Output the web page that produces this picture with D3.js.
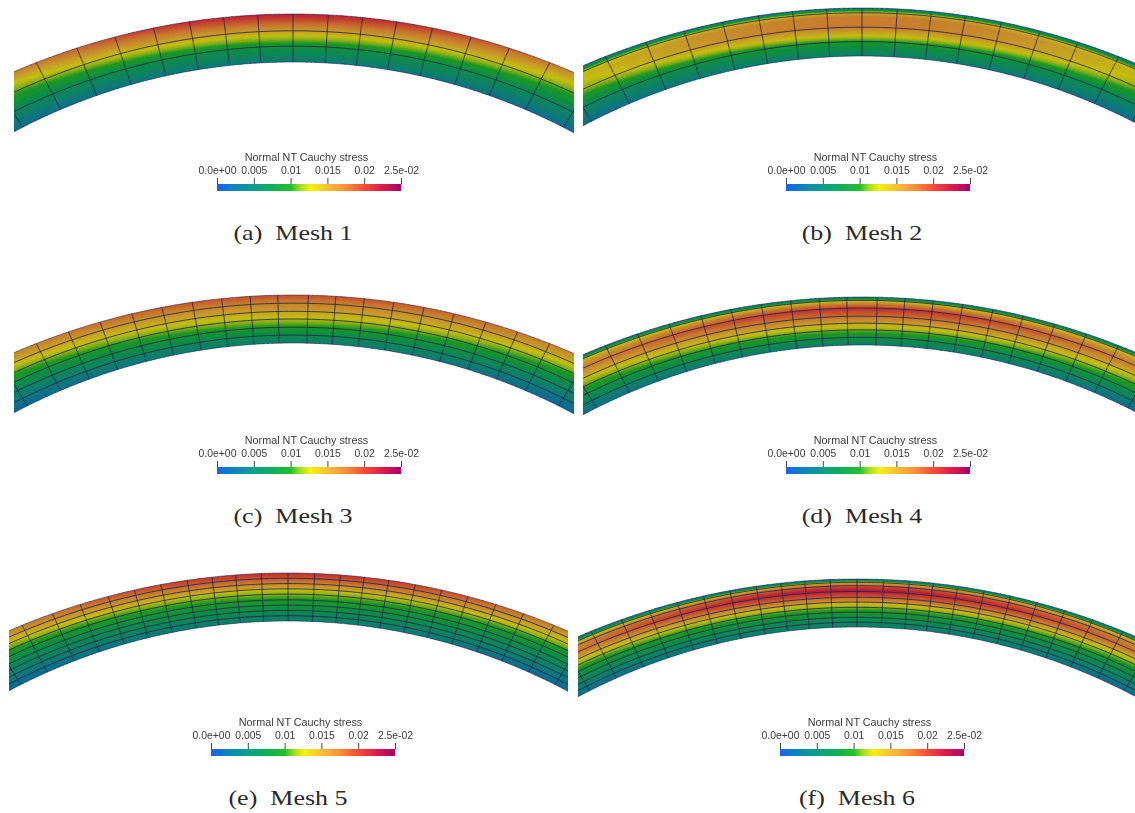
<!DOCTYPE html>
<html>
<head>
<meta charset="utf-8">
<script src="https://cdn.jsdelivr.net/npm/d3@7"></script>
<style>
  html, body { margin: 0; padding: 0; background: #fff; }
  svg { display: block; }
  .bar-title, .bar-axis text { font-family: "Liberation Sans", Arial, sans-serif; fill: #3a3a3a; }
  .bar-title { font-size: 10.8px; }
  .bar-axis text { font-size: 10.4px; }
  .caption { font-family: "Liberation Serif", serif; font-size: 20px; fill: #2a2a2a; }
</style>
</head>
<body>
<svg id="chart"></svg>
<script>
// ---- data ----
const captions = ['(a)  Mesh 1', '(b)  Mesh 2', '(c)  Mesh 3', '(d)  Mesh 4', '(e)  Mesh 5', '(f)  Mesh 6'];
const barTitle = 'Normal NT Cauchy stress';
const tickValues = [0, 0.005, 0.01, 0.015, 0.02, 0.025];
const tickLabels = ['0.0e+00', '0.005', '0.01', '0.015', '0.02', '2.5e-02'];

// colour map of the scalar bar
const colorValues = [0, 0.0025, 0.005, 0.0075, 0.01, 0.0113, 0.0127, 0.015, 0.0175, 0.02, 0.0225, 0.025];
const colorStops = ['#1565e8', '#0c88b8', '#0ca088', '#0eb05a', '#22c02a', '#a8dc1c', '#f8f010', '#fcc036', '#fc8e3a', '#f84a3a', '#dc1c50', '#a8006a'];

// element column lines, degrees from the symmetry axis (one side, mirrored when drawn)
const columnsCoarse = [0, 3.7, 7.3, 10.9, 14.7, 18.8, 22.9, 27.3, 32];
const columnsMedium = [1.6, 4.5, 7.5, 10.6, 13.8, 17, 20.4, 23.8, 27.3, 31.4];
const columnsFine = [0, 2.8, 5.5, 8, 10.6, 13.4, 16.2, 19, 22, 25, 28.3, 31.6];

// layer interfaces through the thickness (0 inner, 1 outer)
const layers1 = [0, 0.33, 0.65, 1];
const layers2 = [0, 0.3, 0.6, 0.9, 1];
const layers3 = [0, 0.165, 0.33, 0.5, 0.66, 0.83, 1];
const layers4 = [0, 0.16, 0.315, 0.455, 0.6, 0.77, 0.93, 1];
const layers5 = [0, 0.11, 0.22, 0.33, 0.44, 0.56, 0.67, 0.78, 0.89, 1];
const layers6 = [0, 0.1, 0.2, 0.31, 0.41, 0.52, 0.62, 0.74, 0.86, 0.93, 1];

// stress through the thickness, at the crown and at the cut edge
const stations1 = [0, 0.3, 0.52, 0.8, 1];
const crown1 = [0.0042, 0.0082, 0.0122, 0.0178, 0.0218];
const edge1 = [0.0026, 0.006, 0.009, 0.0127, 0.0162];

const stations2 = [0, 0.285, 0.39, 0.46, 0.6, 0.82, 0.905, 0.96, 1];
const crown2 = [0.005, 0.0095, 0.012, 0.0138, 0.0168, 0.0168, 0.0135, 0.008, 0.002];
const edge2 = [0.0026, 0.0063, 0.0082, 0.0094, 0.0116, 0.0133, 0.012, 0.008, 0.002];

const stations3 = [0, 0.33, 0.5, 0.655, 0.83, 1];
const crown3 = [0.005, 0.0098, 0.0122, 0.0145, 0.0165, 0.0192];
const edge3 = [0.002, 0.0058, 0.0083, 0.0105, 0.0137, 0.0162];

const stations4 = [0, 0.16, 0.315, 0.455, 0.6, 0.755, 0.86, 0.93, 0.965, 1];
const crown4 = [0.005, 0.0085, 0.0112, 0.0145, 0.0175, 0.0205, 0.0165, 0.0115, 0.008, 0.003];
const edge4 = [0.0026, 0.0055, 0.0083, 0.0105, 0.0132, 0.0165, 0.0152, 0.012, 0.008, 0.002];

const stations5 = [0, 0.3, 0.48, 0.62, 0.72, 0.85, 1];
const crown5 = [0.005, 0.0085, 0.0103, 0.0122, 0.015, 0.018, 0.0208];
const edge5 = [0.002, 0.0056, 0.0078, 0.0095, 0.0113, 0.0137, 0.0164];

const stations6 = [0, 0.36, 0.45, 0.58, 0.72, 0.77, 0.86, 0.93, 0.96, 1];
const crown6 = [0.005, 0.0103, 0.0122, 0.017, 0.0212, 0.0222, 0.0185, 0.0135, 0.008, 0.003];
const edge6 = [0.0026, 0.0083, 0.0098, 0.0125, 0.0168, 0.017, 0.0162, 0.0115, 0.0075, 0.002];

const meshColumns = [columnsCoarse, columnsCoarse, columnsMedium, columnsMedium, columnsFine, columnsFine];
const meshLayers = [layers1, layers2, layers3, layers4, layers5, layers6];
const meshStations = [stations1, stations2, stations3, stations4, stations5, stations6];
const meshCrown = [crown1, crown2, crown3, crown4, crown5, crown6];
const meshEdge = [edge1, edge2, edge3, edge4, edge5, edge6];

// ---- layout ----
const width = 1135, height = 813;
const panelCenter = [293, 862, 293, 862, 288, 857];
const panelTop = [14, 8, 295, 297, 573, 579];
const clipLeft = [14, 583, 14, 583, 9, 578];
const clipRight = [574, 1135, 574, 1135, 568, 1135];
const barLeft = [217, 786, 217, 786, 211, 780];
const barTop = [184, 184, 467, 467, 749, 749];
const captionX = [293, 862, 293, 862, 288, 857];
const captionY = [240, 240, 523, 523, 805, 805];
const barWidth = 184, barHeight = 7;

// distance from the hub of the radial lines to the outer and inner surfaces
const outerRadius = 546, innerRadius = 498;
const outerBulge = d3.scalePow().exponent(2).domain([0, 27]).range([0, 13.5]);
const innerBulge = d3.scalePow().exponent(2).domain([0, 33]).range([0, 13]);

const color = d3.scaleLinear().domain(colorValues).range(colorStops).clamp(true);
// the mesh is lit, so it is a bit darker than the bar
const shade = 0.79;
const meshColor = v => {
  const c = d3.rgb(color(v));
  return d3.rgb(c.r * shade, c.g * shade, c.b * shade).formatHex();
};

const svg = d3.select('#chart').attr('width', width).attr('height', height);
const defs = svg.append('defs');

defs.append('filter').attr('id', 'soft')
  .attr('x', '-2%').attr('y', '-5%').attr('width', '104%').attr('height', '110%')
  .append('feGaussianBlur').attr('stdDeviation', 0.5);

defs.append('filter').attr('id', 'softText')
  .attr('x', '-5%').attr('y', '-20%').attr('width', '110%').attr('height', '140%')
  .append('feGaussianBlur').attr('stdDeviation', 0.3);

defs.append('linearGradient').attr('id', 'barGradient')
  .selectAll('stop')
  .data(colorValues)
  .join('stop')
  .attr('offset', d => d / 0.025)
  .attr('stop-color', (d, i) => colorStops[i]);

function drawMesh(i) {
  const hubX = panelCenter[i], hubY = panelTop[i] + outerRadius;
  const point = (angle, t) => {
    const a = Math.abs(angle);
    const rOut = outerRadius + outerBulge(a);
    const rIn = innerRadius + innerBulge(a);
    const r = rIn + (rOut - rIn) * t;
    const rad = angle * Math.PI / 180;
    return [hubX + r * Math.sin(rad), hubY - r * Math.cos(rad)];
  };

  defs.append('clipPath').attr('id', `clip${i}`)
    .append('rect')
    .attr('x', clipLeft[i]).attr('y', panelTop[i] - 4)
    .attr('width', clipRight[i] - clipLeft[i]).attr('height', 135);

  const crown = d3.scaleLinear().domain(meshStations[i]).range(meshCrown[i]);
  const edge = d3.scaleLinear().domain(meshStations[i]).range(meshEdge[i]);
  const blend = d3.scalePow().exponent(1.8).domain([0, 30]).range([0, 1]).clamp(true);
  const stress = (angle, t) => {
    const b = blend(Math.abs(angle));
    return crown(t) * (1 - b) + edge(t) * b;
  };

  const g = svg.append('g').attr('clip-path', `url(#clip${i})`)
    .append('g').attr('filter', 'url(#soft)');

  // field: thin wedges, each with its own gradient through the thickness
  const da = 0.5;
  const wedges = d3.range(-36, 36, da);
  const samples = d3.range(0, 1.0001, 1 / 48);
  const quad = d3.line();

  const grads = defs.selectAll(`linearGradient.field${i}`)
    .data(wedges)
    .join('linearGradient')
    .attr('class', `field${i}`)
    .attr('id', (d, j) => `field${i}-${j}`)
    .attr('gradientUnits', 'userSpaceOnUse')
    .attr('x1', d => point(d + da / 2, 0)[0])
    .attr('y1', d => point(d + da / 2, 0)[1])
    .attr('x2', d => point(d + da / 2, 1)[0])
    .attr('y2', d => point(d + da / 2, 1)[1]);
  grads.selectAll('stop')
    .data(a => samples.map(t => ({a, t})))
    .join('stop')
    .attr('offset', d => d.t)
    .attr('stop-color', d => meshColor(stress(d.a + da / 2, d.t)));

  g.selectAll('path.cell')
    .data(wedges)
    .join('path')
    .attr('class', 'cell')
    .attr('d', a => quad([point(a, 0), point(a + da * 1.4, 0), point(a + da * 1.4, 1), point(a, 1)]) + 'Z')
    .attr('fill', (a, j) => `url(#field${i}-${j})`);

  // layer lines follow the curve
  const sweep = d3.range(-36, 37.5, 0.5);
  g.selectAll('path.layer')
    .data(meshLayers[i])
    .join('path')
    .attr('class', 'layer')
    .attr('d', t => d3.line()(sweep.map(a => point(a, t))))
    .attr('fill', 'none')
    .attr('stroke', '#20224c')
    .attr('stroke-opacity', t => (t === 0 || t === 1) ? 0.5 : 0.8)
    .attr('stroke-width', 1);

  // column lines, mirrored about the axis
  const columns = meshColumns[i].flatMap(a => a === 0 ? [0] : [a, -a]);
  g.selectAll('path.column')
    .data(columns)
    .join('path')
    .attr('class', 'column')
    .attr('d', a => d3.line()([point(a, 0), point(a, 1)]))
    .attr('stroke', '#20224c')
    .attr('stroke-opacity', 0.8)
    .attr('stroke-width', 1);
}

function drawBar(i) {
  const x = d3.scaleLinear().domain([0, 0.025]).range([0, barWidth]);
  const g = svg.append('g').attr('transform', `translate(${barLeft[i]},${barTop[i]})`)
    .attr('filter', 'url(#softText)');

  g.append('rect')
    .attr('width', barWidth)
    .attr('height', barHeight)
    .attr('fill', 'url(#barGradient)');

  const axis = d3.axisTop(x)
    .tickValues(tickValues)
    .tickFormat((d, j) => tickLabels[j])
    .tickSize(6)
    .tickPadding(4);

  const axisG = g.append('g').attr('class', 'bar-axis').call(axis);
  axisG.select('.domain').remove();
  axisG.selectAll('.tick line').attr('stroke', '#444');
  axisG.selectAll('.tick text').attr('font-size', null).attr('font-family', null);

  g.append('text')
    .attr('class', 'bar-title')
    .attr('x', barWidth / 2 - 2.5)
    .attr('y', -23.5)
    .attr('text-anchor', 'middle')
    .text(barTitle);
}

captions.forEach((c, i) => {
  drawMesh(i);
  drawBar(i);
  // the caption face is wider than any serif here, so it is stretched sideways
  svg.append('text')
    .attr('class', 'caption')
    .attr('transform', `translate(${captionX[i]},${captionY[i]}) scale(1.3,1)`)
    .attr('text-anchor', 'middle')
    .style('white-space', 'pre')
    .text(c);
});
</script>
</body>
</html>
